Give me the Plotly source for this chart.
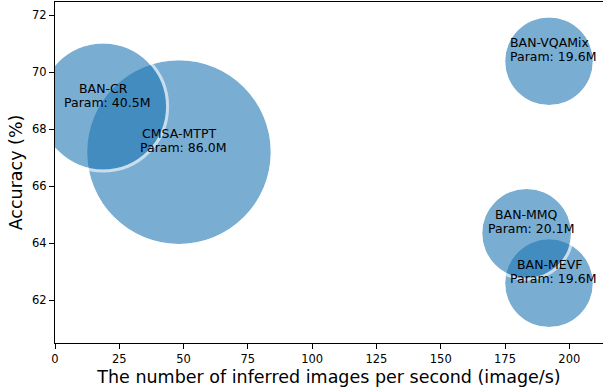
import math
import plotly.graph_objects as go

# Data (draw order: later points drawn on top)
models = ["BAN-VQAMix", "CMSA-MTPT", "BAN-CR", "BAN-MEVF", "BAN-MMQ"]
speed = [192.1, 48.2, 18.7, 192.1, 183.4]          # images per second
accuracy = [70.39, 67.20, 68.80, 62.60, 64.35]     # %
params = [19.6, 86.0, 40.5, 19.6, 20.1]            # millions
x_ticks = [0, 25, 50, 75, 100, 125, 150, 175, 200]
y_ticks = [62, 64, 66, 68, 70, 72]

FONT = "DejaVu Sans"
SCALE = 19.8        # bubble diameter in px per sqrt(million params)
RING = 3            # white edge width in px

fig = go.Figure()
for m, xv, yv, p in zip(models, speed, accuracy, params):
    d = SCALE * math.sqrt(p)
    # filled bubble
    fig.add_trace(go.Scatter(
        x=[xv], y=[yv], mode="markers",
        marker=dict(size=d, color="rgba(31,119,180,0.6)", opacity=1, line=dict(width=0)),
        hoverinfo="skip", showlegend=False,
    ))
    # semi-transparent white edge just outside the bubble
    fig.add_trace(go.Scatter(
        x=[xv], y=[yv], mode="markers",
        marker=dict(size=d + RING, color="rgba(0,0,0,0)", opacity=1,
                    line=dict(color="rgba(255,255,255,0.6)", width=RING)),
        hoverinfo="skip", showlegend=False,
    ))

for m, xv, yv, p in zip(models, speed, accuracy, params):
    fig.add_annotation(
        x=xv, y=yv, text=f"Param: {p:.1f}M", xshift=4,
        showarrow=False, xanchor="center", yanchor="bottom", yshift=-5,
        font=dict(family=FONT, size=12.5, color="black"),
    )
    fig.add_annotation(
        x=xv, y=yv, text=m,
        showarrow=False, xanchor="center", yanchor="bottom", yshift=9,
        font=dict(family=FONT, size=12.5, color="black"),
    )

axis_common = dict(
    showgrid=False, zeroline=False, showline=True, linecolor="black", linewidth=1,
    ticks="outside", ticklen=5, tickwidth=1, tickcolor="black",
    tickfont=dict(family=FONT, size=11.5, color="black"),
)

fig.update_xaxes(
    range=[0, 213.1], tickvals=x_ticks, mirror=True,
    title=dict(text="The number of inferred images per second (image/s)",
               font=dict(family=FONT, size=17.5, color="black"), standoff=5),
    **axis_common,
)
fig.update_yaxes(
    range=[60.5, 72.47], tickvals=y_ticks,
    title=dict(text="Accuracy (%)", font=dict(family=FONT, size=17.5, color="black"), standoff=4),
    **axis_common,
)

fig.update_layout(
    width=604, height=389,
    margin=dict(l=55, r=1, t=2, b=46),
    plot_bgcolor="white", paper_bgcolor="white",
)

fig.write_html("out.html")
